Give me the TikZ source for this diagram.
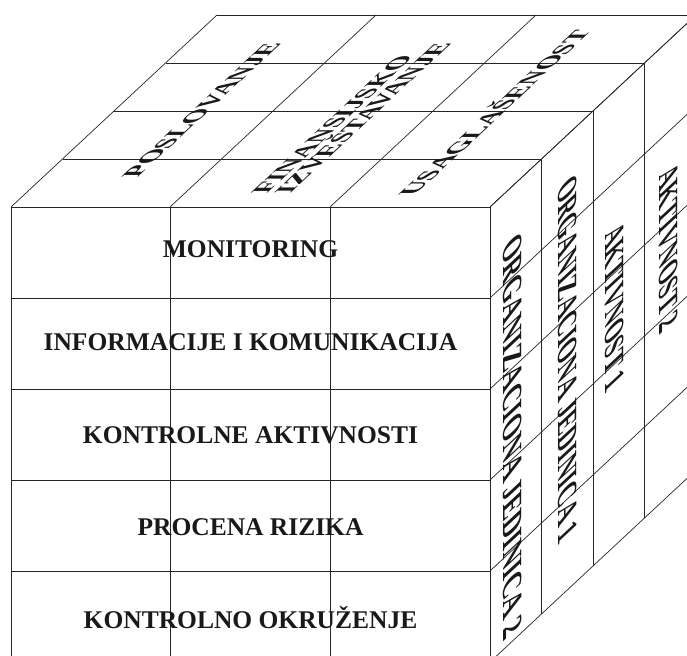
\documentclass[tikz,border=0pt]{standalone}
\usepackage{fontspec}
\setmainfont{Liberation Serif}
\begin{document}
\begin{tikzpicture}[x=1pt,y=1pt,
  cubeline/.style={draw=black!85,line width=0.7pt},
  txt/.style={font=\fontsize{25.5}{30.6}\selectfont\bfseries, inner sep=0pt, text=black!90},
  front/.style={txt, anchor=base},
  toptext/.style={txt, anchor=center, transform shape, cm={0.86,0.802,-1.0,0,(0,0)}},
  sidetext/.style={txt, anchor=center, transform shape, text height=16.9pt, text depth=0pt, cm={0,-#1,1.089,1.016,(0,0)}}
]
\useasboundingbox (0,0) rectangle (687,655);
\clip (0,0) rectangle (687,655);
% front face
\foreach \x in {11,170,330,490} \draw[cubeline] (\x,448) -- (\x,-7);
\foreach \y in {448,357,266,175,84,-7} \draw[cubeline] (11,\y) -- (490,\y);
% top face
\foreach \x in {11,170,330,490} \draw[cubeline] (\x,448) -- ++(206,192);
\foreach \k in {0,...,4} \draw[cubeline] ({11+51.5*\k},{448+48*\k}) -- ++(479,0);
% right face
\foreach \y in {448,357,266,175,84,-7} \draw[cubeline] (490,\y) -- ++(206,192);
\foreach \k in {1,...,4} \draw[cubeline] ({490+51.5*\k},{448+48*\k}) -- ++(0,-455);
% front texts
\node[front] (mon) at (250.5,397.7) {MONITORING};
\node[front] (inf) at (250.5,304.3) {INFORMACIJE I KOMUNIKACIJA};
\node[front] (kak) at (250.5,211) {KONTROLNE AKTIVNOSTI};
\node[front] (pr) at (250.5,119.3) {PROCENA RIZIKA};
\node[front] (ko) at (250.5,26.7) {KONTROLNO OKRUŽENJE};
% top texts
\begin{scope}[shift={(201.5,545)}]
  \node[toptext, text height=16.9pt, text depth=0pt] (pos) {POSLOVANJE};
\end{scope}
\begin{scope}[shift={(351.5,537)}]
  \node[toptext, align=left, font=\fontsize{25.5}{21}\selectfont\bfseries] (fin) {FINANSIJSKO\\IZVEŠTAVANJE};
\end{scope}
\begin{scope}[shift={(495,542)}]
  \node[toptext, text height=16.9pt, text depth=0pt] (usa) {USAGLAŠENOST};
\end{scope}
% right texts
\begin{scope}[shift={(513,219)}]
  \node[sidetext=1.06] (oj2) {ORGANIZACIONA JEDINICA 2};
\end{scope}
\begin{scope}[shift={(567.5,296)}]
  \node[sidetext=0.96] (oj1) {ORGANIZACIONA JEDINICA 1};
\end{scope}
\begin{scope}[shift={(615,348)}]
  \node[sidetext=0.93] (ak1) {AKTIVNOST 1};
\end{scope}
\begin{scope}[shift={(669,407)}]
  \node[sidetext=0.93] (ak2) {AKTIVNOST 2};
\end{scope}
\end{tikzpicture}
\end{document}
